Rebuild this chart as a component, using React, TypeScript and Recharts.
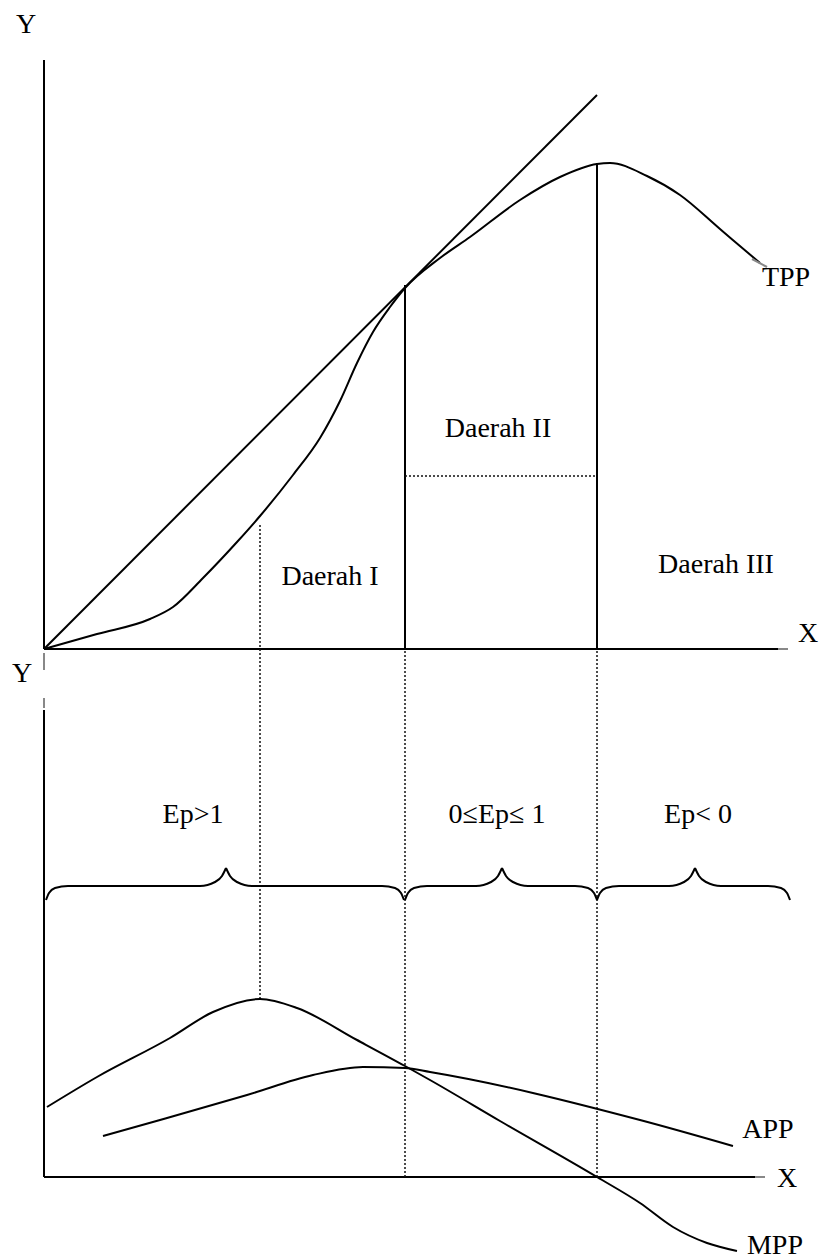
import { ComposedChart, Line, ReferenceLine, Scatter, XAxis, YAxis } from 'recharts';

// Units: 1 unit = 1 px. x = 0 on both Y axes, y = 0 on each panel's X axis.

// Top panel: total physical product and the ray from the origin
const tppX = [0, 53, 106, 129, 159, 193, 216, 249, 276, 296, 313, 329, 346, 361, 396, 426, 476, 516, 553, 566, 603, 636, 676, 703, 716];
const tppY = [0, 15, 30, 42, 71, 107, 133, 174, 211, 248, 286, 317, 342, 361, 391, 412, 449, 472, 485, 486, 473, 454, 420, 397, 386];
const rayX = [0, 553];
const rayY = [0, 554];

// Bottom panel: marginal and average physical product
const mppX = [3, 53, 126, 169, 216, 253, 313, 361, 386, 456, 553, 596, 629, 663, 693];
const mppY = [70, 100, 139, 165, 178, 169, 137, 111, 97, 56, 0, -26, -50, -66, -74];
const appX = [59, 116, 203, 269, 319, 361, 386, 596, 689];
const appY = [41, 57, 82, 102, 110, 109, 105, 57, 31];

// Stage boundaries
const stageX = [216, 361, 553];
const tppAtStage = [126, 364, 486]; // where the boundary meets TPP (top panel)
const mppPeak = 178; // bottom panel
const stageIIMid = 173; // dotted line inside Daerah II (top panel)

const braceFrom = [2, 361, 553];
const braceTip = [182, 458, 651];
const braceTo = [360, 553, 746];
const braceBase = 291;

const topLabels = [
  { x: -18, y: 626, text: 'Y' },
  { x: 764, y: 17, text: 'X' },
  { x: 742, y: 373, text: 'TPP' },
  { x: 286, y: 74, text: 'Daerah I' },
  { x: 454, y: 222, text: 'Daerah II' },
  { x: 672, y: 86, text: 'Daerah III' },
];
const bottomLabels = [
  { x: -22, y: 505, text: 'Y' },
  { x: 743, y: 0, text: 'X' },
  { x: 724, y: 49, text: 'APP' },
  { x: 731, y: -67, text: 'MPP' },
  { x: 149, y: 364, text: 'Ep>1' },
  { x: 453, y: 364, text: '0≤Ep≤ 1' },
  { x: 654, y: 364, text: 'Ep< 0' },
];

const pts = (xs: number[], ys: number[]) => xs.map((x, i) => ({ x, y: ys[i] }));

const CURL = [[0, -14], [3, -7], [9, -2], [22, 0]];
const TIP = [[-26, 0], [-11, 4], [-4, 10], [0, 18]];
function braceHalf(end: number, tip: number) {
  const d = tip > end ? 1 : -1;
  return [
    ...CURL.map(([dx, dy]) => ({ x: end + d * dx, y: braceBase + dy })),
    ...TIP.map(([dx, dy]) => ({ x: tip + d * dx, y: braceBase + dy })),
  ].sort((a, b) => a.x - b.x);
}

const FONT = '"Liberation Serif", "Times New Roman", serif';

const TextShape = (props: any) => (
  <text
    x={props.cx}
    y={props.cy}
    textAnchor="middle"
    dominantBaseline="central"
    style={{ fontFamily: FONT, fontSize: 28 }}
    fill="#000"
  >
    {props.payload.text}
  </text>
);

const solid = { stroke: '#000', strokeWidth: 2 };
const dotted = { stroke: '#111', strokeWidth: 1.5, strokeDasharray: '2 2' };
const grey = { stroke: '#888', strokeWidth: 2 };

export default function App() {
  return (
    <div style={{ position: 'absolute', left: 0, top: 0, width: 821, height: 1260, background: '#fff' }}>
      <ComposedChart width={821} height={1260} margin={{ top: 0, right: 0, bottom: 0, left: 0 }}>
        <XAxis dataKey="x" type="number" domain={[-44, 777]} allowDataOverflow hide />
        <YAxis yAxisId="top" dataKey="y" type="number" domain={[-611, 649]} allowDataOverflow hide />
        <YAxis yAxisId="bot" dataKey="y" type="number" domain={[-83, 1177]} allowDataOverflow hide />

        {/* axes */}
        <ReferenceLine yAxisId="top" segment={[{ x: 0, y: 0 }, { x: 0, y: 589 }]} {...solid} />
        <ReferenceLine yAxisId="top" segment={[{ x: 0, y: 0 }, { x: 734, y: 0 }]} {...solid} />
        <ReferenceLine yAxisId="top" segment={[{ x: 734, y: 0 }, { x: 744, y: 0 }]} {...grey} />
        <ReferenceLine yAxisId="bot" segment={[{ x: 0, y: 0 }, { x: 0, y: 467 }]} {...solid} />
        <ReferenceLine yAxisId="bot" segment={[{ x: 0, y: 469 }, { x: 0, y: 479 }]} {...grey} />
        <ReferenceLine yAxisId="bot" segment={[{ x: 0, y: 507 }, { x: 0, y: 524 }]} {...grey} />
        <ReferenceLine yAxisId="bot" segment={[{ x: 0, y: 0 }, { x: 711, y: 0 }]} {...solid} />
        <ReferenceLine yAxisId="bot" segment={[{ x: 711, y: 0 }, { x: 721, y: 0 }]} {...grey} />

        {/* stage boundaries */}
        <ReferenceLine yAxisId="top" segment={[{ x: stageX[1], y: 0 }, { x: stageX[1], y: tppAtStage[1] }]} {...solid} />
        <ReferenceLine yAxisId="top" segment={[{ x: stageX[2], y: 0 }, { x: stageX[2], y: tppAtStage[2] }]} {...solid} />
        <ReferenceLine yAxisId="top" segment={[{ x: stageX[1], y: stageIIMid }, { x: stageX[2], y: stageIIMid }]} {...dotted} />
        <ReferenceLine yAxisId="bot" segment={[{ x: stageX[0], y: mppPeak }, { x: stageX[0], y: 654 }]} {...dotted} />
        <ReferenceLine yAxisId="bot" segment={[{ x: stageX[1], y: 0 }, { x: stageX[1], y: 528 }]} {...dotted} />
        <ReferenceLine yAxisId="bot" segment={[{ x: stageX[2], y: 0 }, { x: stageX[2], y: 528 }]} {...dotted} />

        {/* curves */}
        <Line yAxisId="top" data={pts(rayX, rayY)} dataKey="y" type="linear" dot={false} {...solid} isAnimationActive={false} />
        <Line yAxisId="top" data={pts(tppX, tppY)} dataKey="y" type="monotone" dot={false} {...solid} isAnimationActive={false} />
        <Line yAxisId="top" data={[{ x: 708, y: 390 }, { x: 723, y: 382 }]} dataKey="y" type="linear" dot={false} {...grey} isAnimationActive={false} />
        <Line yAxisId="bot" data={pts(mppX, mppY)} dataKey="y" type="monotone" dot={false} {...solid} isAnimationActive={false} />
        <Line yAxisId="bot" data={pts(appX, appY)} dataKey="y" type="monotone" dot={false} {...solid} isAnimationActive={false} />

        {/* braces */}
        {braceTip.map((tip, i) => (
          <Line key={`bl${i}`} yAxisId="bot" data={braceHalf(braceFrom[i], tip)} dataKey="y" type="monotone" dot={false} {...solid} isAnimationActive={false} />
        ))}
        {braceTip.map((tip, i) => (
          <Line key={`br${i}`} yAxisId="bot" data={braceHalf(braceTo[i], tip)} dataKey="y" type="monotone" dot={false} {...solid} isAnimationActive={false} />
        ))}

        {/* text */}
        <Scatter yAxisId="top" data={topLabels} shape={TextShape} isAnimationActive={false} />
        <Scatter yAxisId="bot" data={bottomLabels} shape={TextShape} isAnimationActive={false} />
      </ComposedChart>
    </div>
  );
}
